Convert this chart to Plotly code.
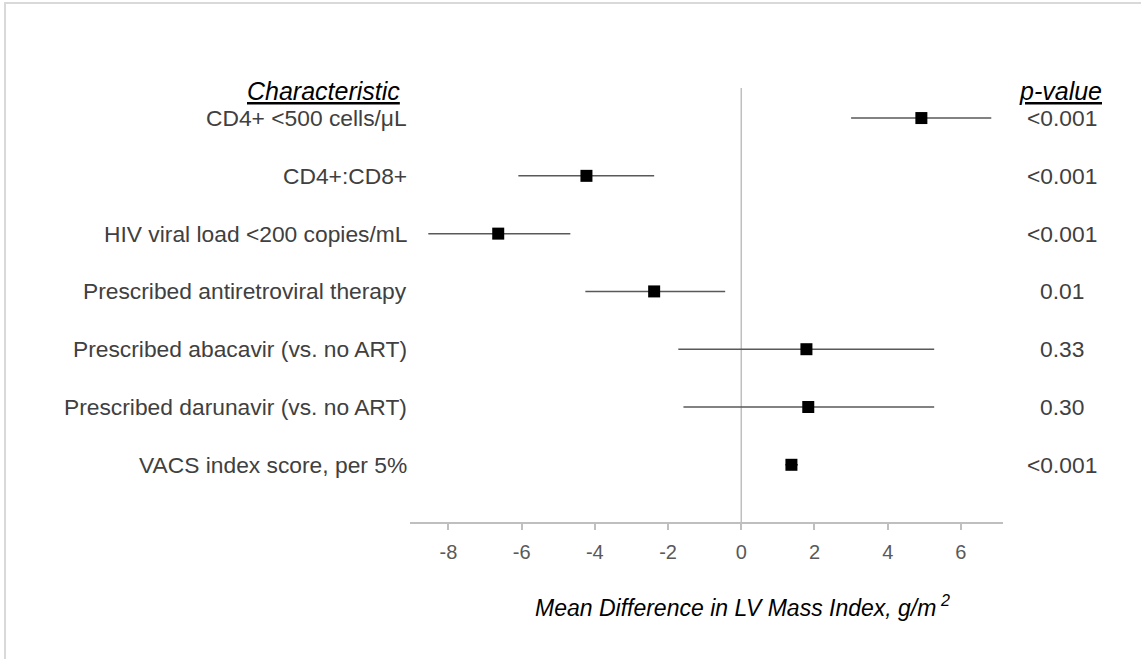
import plotly.graph_objects as go

characteristics = [
    "CD4+ <500 cells/μL",
    "CD4+:CD8+",
    "HIV viral load <200 copies/mL",
    "Prescribed antiretroviral therapy",
    "Prescribed abacavir (vs. no ART)",
    "Prescribed darunavir (vs. no ART)",
    "VACS index score, per 5%",
]
estimates = [4.92, -4.23, -6.64, -2.38, 1.78, 1.83, 1.37]
ci_low = [3.00, -6.09, -8.55, -4.26, -1.72, -1.58, 1.20]
ci_high = [6.83, -2.38, -4.67, -0.44, 5.27, 5.27, 1.55]
p_values = ["<0.001", "<0.001", "<0.001", "0.01", "0.33", "0.30", "<0.001"]
x_ticks = [-8, -6, -4, -2, 0, 2, 4, 6]

W, H = 1141, 659
L, R, T, B = 410, 1003, 88, 522

rows = list(range(1, len(characteristics) + 1))

fig = go.Figure()

for i, r in enumerate(rows):
    fig.add_trace(go.Scatter(
        x=[ci_low[i], ci_high[i]], y=[r, r], mode="lines",
        line=dict(color="#595959", width=1.5), showlegend=False, hoverinfo="skip"))

fig.add_trace(go.Scatter(
    x=estimates, y=rows, mode="markers",
    marker=dict(symbol="square", size=12, color="black"),
    showlegend=False))

font_fam = "Liberation Sans, Arial, sans-serif"
LBL = 22.8
px_p = (1062 - L) / (R - L)

for i, r in enumerate(rows):
    fig.add_annotation(x=0, xref="paper", xanchor="right", xshift=-1,
                       y=r, yref="y", text=characteristics[i], showarrow=False,
                       font=dict(family=font_fam, size=LBL, color="#404040"))
    fig.add_annotation(x=px_p, xref="paper", y=r, yref="y", text=p_values[i],
                       showarrow=False, xanchor="center",
                       font=dict(family=font_fam, size=LBL, color="#404040"))

fig.add_annotation(x=(402 - L) / (R - L), xref="paper", xanchor="right", y=0.53, yref="y",
                   text="<i><u>Characteristic</u></i>", showarrow=False,
                   font=dict(family=font_fam, size=25, color="black"))
fig.add_annotation(x=(1104 - L) / (R - L), xref="paper", xanchor="right", y=0.53, yref="y",
                   text="<i><u>p-value</u></i>", showarrow=False,
                   font=dict(family=font_fam, size=25, color="black"))

# x-axis title, centred where the reference places it
fig.add_annotation(x=(742 - L) / (R - L), xref="paper", xanchor="center",
                   y=(B - 606) / (B - T), yref="paper", yanchor="middle",
                   text="<i>Mean Difference in LV Mass Index, g/m<sup> 2</sup></i>",
                   showarrow=False, font=dict(family=font_fam, size=23, color="black"))

fig.add_shape(type="line", x0=0, x1=0, xref="x", y0=0, y1=1, yref="paper",
              line=dict(color="#bfbfbf", width=1.5), layer="below")

fig.add_shape(type="rect", xref="paper", yref="paper",
              x0=(5 - L) / (R - L), x1=(1150 - L) / (R - L),
              y0=(B - 665) / (B - T), y1=(B - 3) / (B - T),
              line=dict(color="#d9d9d9", width=2))

fig.update_layout(
    width=W, height=H,
    margin=dict(l=L, r=W - R, t=T, b=H - B),
    plot_bgcolor="white", paper_bgcolor="white",
    showlegend=False,
    xaxis=dict(range=[-9.05, 7.15], tickvals=x_ticks, ticktext=[str(v) for v in x_ticks],
               showgrid=False, zeroline=False, showline=True, linecolor="#bfbfbf", linewidth=1.5,
               ticks="outside", ticklen=6, tickcolor="#bfbfbf", tickwidth=1.5,
               ticklabelstandoff=5,
               tickfont=dict(family=font_fam, size=20, color="#595959")),
    yaxis=dict(range=[7.99, 0.48], showgrid=False, zeroline=False, showline=False,
               showticklabels=False, ticks=""),
)

fig.write_html("out.html")
